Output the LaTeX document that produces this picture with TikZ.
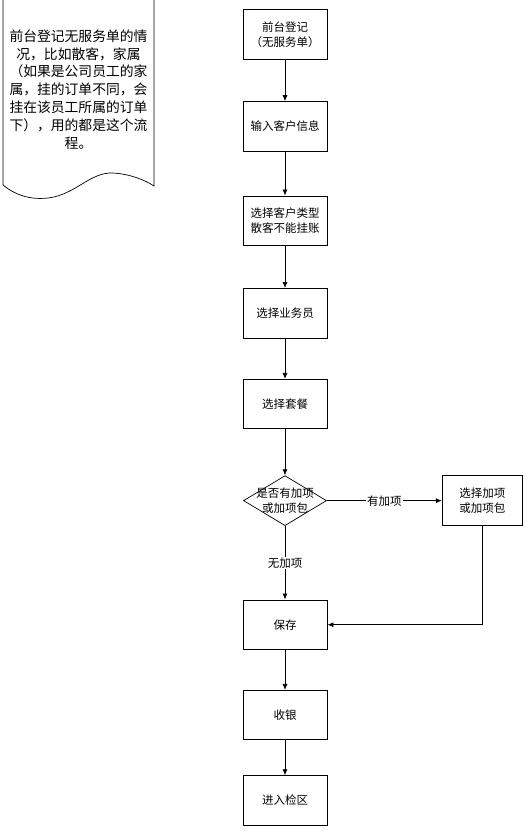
\documentclass[tikz,border=0pt]{standalone}
\usepackage{fontspec}
\setmainfont{Noto Sans CJK SC}
\usetikzlibrary{shapes.geometric, arrows.meta, positioning}
\tikzstyle{process} = [rectangle, minimum width=84pt, minimum height=49.5pt, text centered, align=center, draw=black, line width=0.9pt, font=\fontsize{11.5}{15}\selectfont, inner sep=1pt]
\tikzstyle{decision} = [diamond, minimum width=83pt, minimum height=50pt, draw=black, line width=0.7pt, inner sep=0pt]
\tikzstyle{arrow} = [line width=0.7pt, -{Latex[length=6pt,width=5pt]}]
\tikzstyle{line} = [line width=0.7pt]
\tikzstyle{branch} = [fill=white, font=\fontsize{11.5}{15}\selectfont, inner sep=1pt]

\begin{document}
\begin{tikzpicture}[x=1pt, y=-1pt]
\useasboundingbox (0,0) rectangle (526,831);

% Note on the left
\draw[line] (3,-3) -- (3,185) .. controls (15,195) and (30,200) .. (48,198)
  .. controls (75,195) and (90,172) .. (113,173)
  .. controls (130,174) and (145,180) .. (154,186) -- (154,-3);
\node (beizhu) [align=center, text width=146pt, font=\fontsize{13.8}{17.8}\selectfont] at (78.5,89.5)
  {前台登记无服务单的情\\况，比如散客，家属\\（如果是公司员工的家\\属，挂的订单不同，会\\挂在该员工所属的订单\\下），用的都是这个流\\程。};

% Process Nodes
\node (qiantai) [process] at (285,34.5) {前台登记\\（无服务单）};
\node (shuru) [process, below=41.5pt of qiantai] {输入客户信息};
\node (leixing) [process, below=44pt of shuru] {选择客户类型\\散客不能挂账};
\node (yewuyuan) [process, below=42pt of leixing] {选择业务员};
\node (taocan) [process, below=40.5pt of yewuyuan] {选择套餐};
\node (jiaxiang) [decision, below=46pt of taocan] {};
\node (jiaxiangtext) [align=center, font=\fontsize{11.5}{15}\selectfont, inner sep=0pt] at (jiaxiang) {是否有加项\\或加项包};
\node (xuanjia) [process, minimum width=80pt, right=115pt of jiaxiang] {选择加项\\或加项包};
\node (baocun) [process, below=73.5pt of jiaxiang] {保存};
\node (shouyin) [process, below=40pt of baocun] {收银};
\node (jianqu) [process, below=35pt of shouyin] {进入检区};

% Arrows between nodes
\draw [arrow] (qiantai) -- (shuru);
\draw [arrow] (shuru) -- (leixing);
\draw [arrow] (leixing) -- (yewuyuan);
\draw [arrow] (yewuyuan) -- (taocan);
\draw [arrow] (taocan) -- (jiaxiang);
\draw [arrow] (jiaxiang) -- node[branch] {有加项} (xuanjia);
\draw [arrow] (jiaxiang) -- node[branch] {无加项} (baocun);
\draw [arrow] (xuanjia.south) |- (baocun.east);
\draw [arrow] (baocun) -- (shouyin);
\draw [arrow] (shouyin) -- (jianqu);

\end{tikzpicture}
\end{document}
